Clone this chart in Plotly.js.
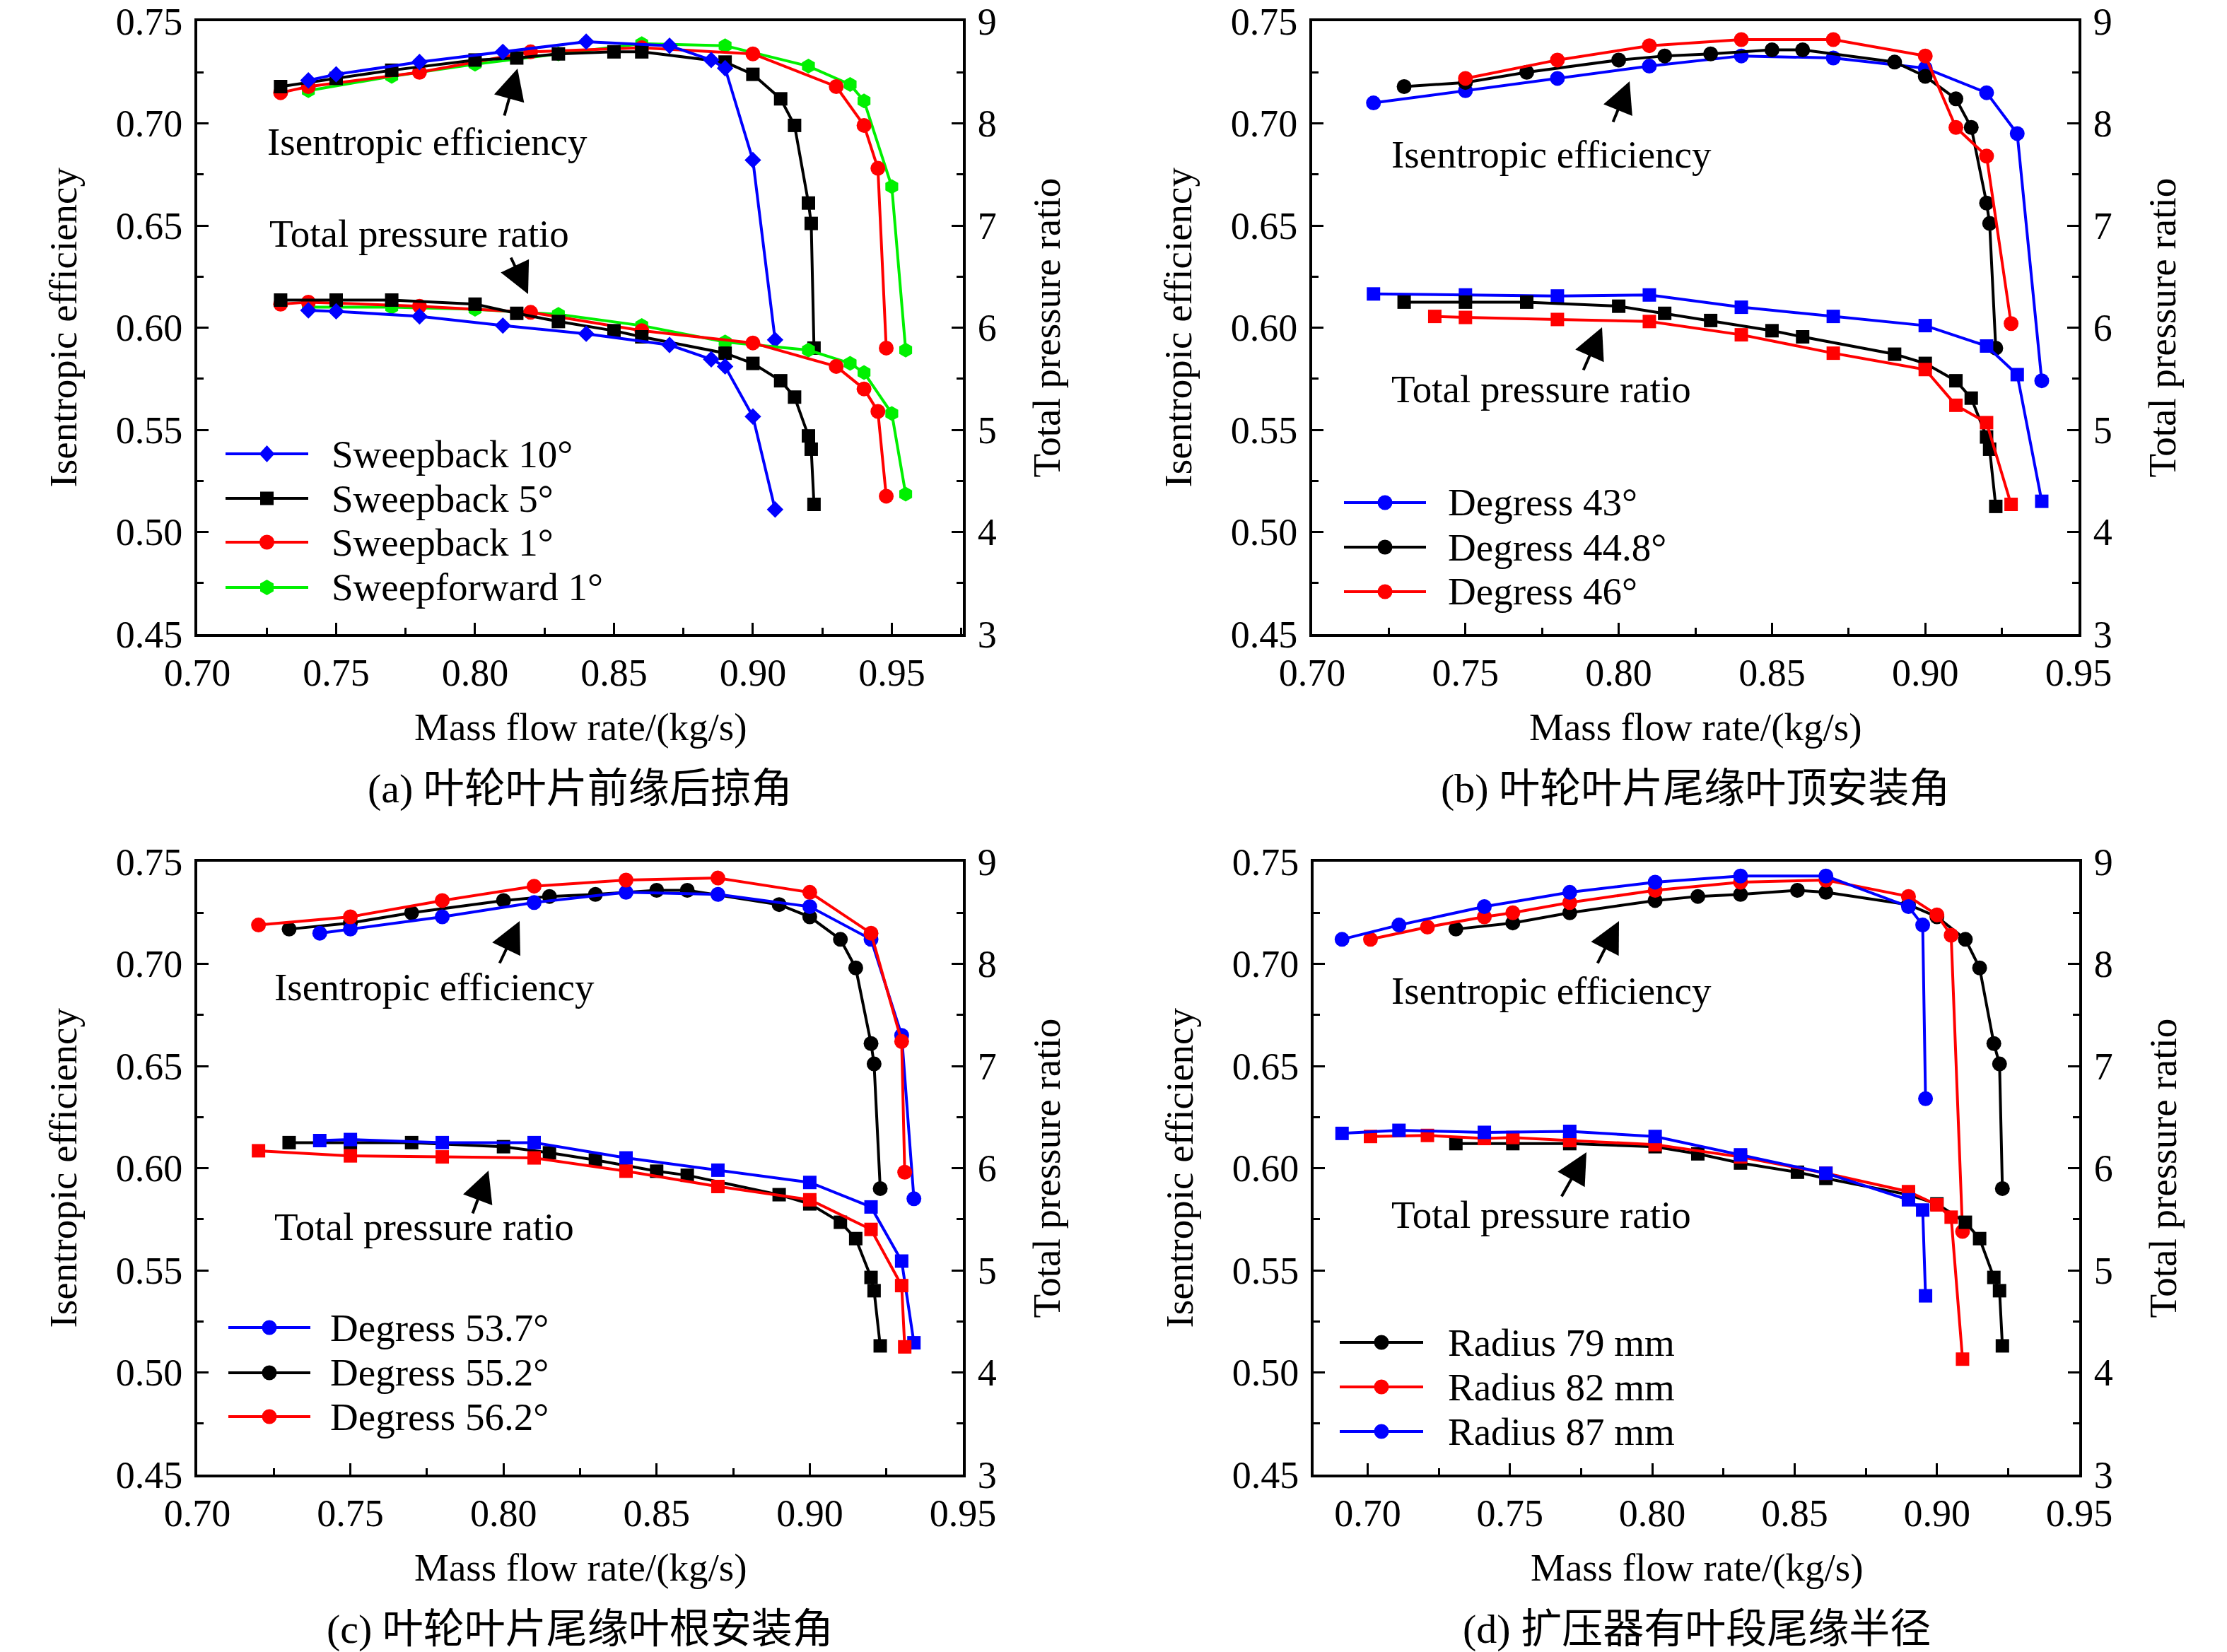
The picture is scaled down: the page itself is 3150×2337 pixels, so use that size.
<!DOCTYPE html>
<html><head><meta charset="utf-8">
<script src="https://cdn.plot.ly/plotly-3.0.1.min.js"></script>
<style>html,body{margin:0;padding:0;background:#fff}</style>
</head><body><div id="chart" style="width:3150px;height:2337px"></div>
<script>
// ---------- tick labels ----------
const flowTicks = [0.70, 0.75, 0.80, 0.85, 0.90, 0.95];
const flowTickText = ['0.70', '0.75', '0.80', '0.85', '0.90', '0.95'];
const effTicks = [0.45, 0.50, 0.55, 0.60, 0.65, 0.70, 0.75];
const effTickText = ['0.45', '0.50', '0.55', '0.60', '0.65', '0.70', '0.75'];
const prTicks = [3, 4, 5, 6, 7, 8, 9];
const prTickText = ['3', '4', '5', '6', '7', '8', '9'];

// ---------- (a) leading-edge sweep ----------
const a_sb10_flow = [0.740, 0.750, 0.780, 0.810, 0.840, 0.870, 0.885, 0.890, 0.900, 0.908];
const a_sb10_eff  = [0.721, 0.724, 0.730, 0.735, 0.740, 0.738, 0.731, 0.727, 0.682, 0.594];
const a_sb10_pr   = [6.17, 6.16, 6.11, 6.02, 5.94, 5.83, 5.69, 5.62, 5.13, 4.22];

const a_sb5_flow = [0.730, 0.750, 0.770, 0.800, 0.815, 0.830, 0.850, 0.860, 0.890, 0.900, 0.910, 0.915, 0.920, 0.921, 0.922];
const a_sb5_eff  = [0.718, 0.722, 0.726, 0.731, 0.732, 0.734, 0.735, 0.735, 0.730, 0.724, 0.712, 0.699, 0.661, 0.651, 0.590];
const a_sb5_pr   = [6.27, 6.27, 6.27, 6.23, 6.14, 6.06, 5.97, 5.91, 5.75, 5.65, 5.48, 5.32, 4.94, 4.81, 4.27];

const a_sb1_flow = [0.730, 0.740, 0.780, 0.820, 0.860, 0.900, 0.930, 0.940, 0.945, 0.948];
const a_sb1_eff  = [0.715, 0.718, 0.725, 0.735, 0.737, 0.734, 0.718, 0.699, 0.678, 0.590];
const a_sb1_pr   = [6.23, 6.25, 6.21, 6.15, 5.97, 5.85, 5.62, 5.40, 5.18, 4.35];

const a_sf1_flow = [0.740, 0.770, 0.800, 0.830, 0.860, 0.890, 0.920, 0.935, 0.940, 0.950, 0.955];
const a_sf1_eff  = [0.716, 0.723, 0.729, 0.734, 0.739, 0.738, 0.728, 0.719, 0.711, 0.669, 0.589];
const a_sf1_pr   = [6.20, 6.20, 6.18, 6.13, 6.02, 5.86, 5.78, 5.65, 5.56, 5.16, 4.37];

// ---------- (b) trailing-edge tip angle ----------
const b_43_flow = [0.720, 0.750, 0.780, 0.810, 0.840, 0.870, 0.900, 0.920, 0.930, 0.938];
const b_43_eff  = [0.710, 0.716, 0.722, 0.728, 0.733, 0.732, 0.727, 0.715, 0.695, 0.574];
const b_43_pr   = [6.33, 6.32, 6.31, 6.32, 6.20, 6.11, 6.02, 5.82, 5.54, 4.30];

const b_448_flow = [0.730, 0.750, 0.770, 0.800, 0.815, 0.830, 0.850, 0.860, 0.890, 0.900, 0.910, 0.915, 0.920, 0.921, 0.923];
const b_448_eff  = [0.718, 0.720, 0.725, 0.731, 0.733, 0.734, 0.736, 0.736, 0.730, 0.723, 0.712, 0.698, 0.661, 0.651, 0.590];
const b_448_pr   = [6.25, 6.25, 6.25, 6.21, 6.14, 6.07, 5.97, 5.91, 5.74, 5.65, 5.48, 5.31, 4.93, 4.81, 4.25];

const b_46_flow = [0.740, 0.750, 0.780, 0.810, 0.840, 0.870, 0.900, 0.910, 0.920, 0.928];
const b_46_eff  = [null, 0.722, 0.731, 0.738, 0.741, 0.741, 0.733, 0.698, 0.684, 0.602];
const b_46_pr   = [6.11, 6.10, 6.08, 6.06, 5.93, 5.75, 5.59, 5.24, 5.07, 4.27];

// ---------- (c) trailing-edge hub angle ----------
const c_537_flow = [0.740, 0.750, 0.780, 0.810, 0.840, 0.870, 0.900, 0.920, 0.930, 0.934];
const c_537_eff  = [0.715, 0.717, 0.723, 0.730, 0.735, 0.734, 0.728, 0.712, 0.665, 0.585];
const c_537_pr   = [6.27, 6.28, 6.25, 6.25, 6.10, 5.98, 5.86, 5.62, 5.09, 4.29];

const c_552_flow = [0.730, 0.750, 0.770, 0.800, 0.815, 0.830, 0.850, 0.860, 0.890, 0.900, 0.910, 0.915, 0.920, 0.921, 0.923];
const c_552_eff  = [0.717, 0.720, 0.725, 0.731, 0.733, 0.734, 0.736, 0.736, 0.729, 0.723, 0.712, 0.698, 0.661, 0.651, 0.590];
const c_552_pr   = [6.25, 6.25, 6.25, 6.21, 6.15, 6.08, 5.97, 5.93, 5.74, 5.65, 5.47, 5.31, 4.93, 4.80, 4.26];

const c_562_flow = [0.720, 0.750, 0.780, 0.810, 0.840, 0.870, 0.900, 0.920, 0.930, 0.931];
const c_562_eff  = [0.719, 0.723, 0.731, 0.738, 0.741, 0.742, 0.735, 0.715, 0.662, 0.598];
const c_562_pr   = [6.17, 6.12, 6.11, 6.10, 5.97, 5.82, 5.69, 5.40, 4.85, 4.25];

// ---------- (d) diffuser vane trailing-edge radius ----------
const d_79_flow = [0.731, 0.751, 0.771, 0.801, 0.816, 0.831, 0.851, 0.861, 0.890, 0.900, 0.910, 0.915, 0.920, 0.922, 0.923];
const d_79_eff  = [0.717, 0.720, 0.725, 0.731, 0.733, 0.734, 0.736, 0.735, 0.729, 0.723, 0.712, 0.698, 0.661, 0.651, 0.590];
const d_79_pr   = [6.24, 6.24, 6.24, 6.21, 6.14, 6.05, 5.96, 5.90, 5.74, 5.65, 5.47, 5.31, 4.93, 4.80, 4.26];

const d_82_flow = [0.701, 0.721, 0.741, 0.751, 0.771, 0.801, 0.831, 0.861, 0.890, 0.900, 0.905, 0.909];
const d_82_eff  = [0.712, 0.718, 0.723, 0.725, 0.730, 0.736, 0.740, 0.741, 0.733, 0.724, 0.714, 0.569];
const d_82_pr   = [6.31, 6.32, 6.29, 6.30, 6.27, 6.23, 6.11, 5.95, 5.77, 5.64, 5.52, 4.13];

const d_87_flow = [0.691, 0.711, 0.741, 0.771, 0.801, 0.831, 0.861, 0.890, 0.895, 0.896];
const d_87_eff  = [0.712, 0.719, 0.728, 0.735, 0.740, 0.743, 0.743, 0.728, 0.719, 0.634];
const d_87_pr   = [6.34, 6.37, 6.35, 6.36, 6.31, 6.13, 5.95, 5.69, 5.59, 4.75];

// ---------- layout helpers ----------
const W = 3150, H = 2337;
const FONT = '"Liberation Serif", "Times New Roman", serif';
const CJK = '"Liberation Serif", "Noto Sans CJK SC", serif';
const PX = v => v / W, PY = v => 1 - v / H;
const BLUE = '#0000ff', BLACK = '#000000', RED = '#ff0000', GREEN = '#00f000';

const panels = [
  {id: 1, x0: 279,  x1: 1362, y0: 30,   y1: 897,  xr: [0.70, 0.9756], cap: '(a) 叶轮叶片前缘后掠角'},
  {id: 2, x0: 1856, x1: 2940, y0: 30,   y1: 897,  xr: [0.70, 0.95],   cap: '(b) 叶轮叶片尾缘叶顶安装角'},
  {id: 3, x0: 279,  x1: 1362, y0: 1219, y1: 2086, xr: [0.70, 0.95],   cap: '(c) 叶轮叶片尾缘叶根安装角'},
  {id: 4, x0: 1858, x1: 2941, y0: 1219, y1: 2086, xr: [0.681, 0.95],  cap: '(d) 扩压器有叶段尾缘半径'}
];

const layout = {
  width: W, height: H, margin: {l: 0, r: 0, t: 0, b: 0},
  paper_bgcolor: '#fff', plot_bgcolor: '#fff', showlegend: false,
  font: {family: FONT, size: 54, color: '#000'},
  annotations: [], shapes: []
};
const tickFont = {family: FONT, size: 54, color: '#000'};
const common = {
  showline: true, linewidth: 4, linecolor: '#000', showgrid: false, zeroline: false,
  ticks: 'inside', ticklen: 16, tickwidth: 3, tickcolor: '#000', tickfont: tickFont,
  tickmode: 'array', fixedrange: true, ticklabelstandoff: 6
};

panels.forEach(p => {
  const s = p.id === 1 ? '' : String(p.id);
  const sr = String(p.id + 4);
  layout['xaxis' + s] = Object.assign({}, common, {
    domain: [PX(p.x0), PX(p.x1)], range: p.xr, anchor: 'y' + s, mirror: true,
    tickvals: flowTicks, ticktext: flowTickText, ticklabelstandoff: 4,
    minor: {tick0: 0.70, dtick: 0.025, ticks: 'inside', ticklen: 9, tickwidth: 3, tickcolor: '#000', showgrid: false}
  });
  layout['yaxis' + s] = Object.assign({}, common, {
    domain: [PY(p.y1), PY(p.y0)], range: [0.45, 0.75], anchor: 'x' + s,
    tickvals: effTicks, ticktext: effTickText,
    minor: {tick0: 0.45, dtick: 0.025, ticks: 'inside', ticklen: 9, tickwidth: 3, tickcolor: '#000', showgrid: false}
  });
  layout['yaxis' + sr] = Object.assign({}, common, {
    overlaying: 'y' + s, side: 'right', anchor: 'x' + s, range: [3, 9],
    tickvals: prTicks, ticktext: prTickText,
    minor: {tick0: 3, dtick: 0.5, ticks: 'inside', ticklen: 9, tickwidth: 3, tickcolor: '#000', showgrid: false}
  });
  const cx = (p.x0 + p.x1) / 2, cy = (p.y0 + p.y1) / 2;
  const titleFont = {family: FONT, size: 55, color: '#000'};
  layout.annotations.push(
    {xref: 'paper', yref: 'paper', x: PX(cx), y: PY(p.y1 + 131), text: 'Mass flow rate/(kg/s)', showarrow: false, xanchor: 'center', yanchor: 'middle', font: titleFont},
    {xref: 'paper', yref: 'paper', x: PX(cx), y: PY(p.y1 + 218), text: p.cap, showarrow: false, xanchor: 'center', yanchor: 'middle', font: {family: CJK, size: 58, color: '#000'}},
    {xref: 'paper', yref: 'paper', x: PX(p.x0 - 190), y: PY(cy), text: 'Isentropic efficiency', showarrow: false, textangle: -90, xanchor: 'center', yanchor: 'middle', font: titleFont},
    {xref: 'paper', yref: 'paper', x: PX(p.x1 + 118), y: PY(cy), text: 'Total pressure ratio', showarrow: false, textangle: -90, xanchor: 'center', yanchor: 'middle', font: titleFont}
  );
});

const traces = [];
const SIZES = {circle: 21, square: 19, diamond: 18, hexagon: 21};
function addSeries(pid, flow, eff, pr, color, effSym, prSym) {
  const s = pid === 1 ? '' : String(pid);
  const sr = String(pid + 4);
  const base = {mode: 'lines+markers', showlegend: false, cliponaxis: false, hoverinfo: 'x+y'};
  traces.push(Object.assign({}, base, {x: flow, y: eff, xaxis: 'x' + s, yaxis: 'y' + s,
    line: {color: color, width: 4}, marker: {symbol: effSym, size: SIZES[effSym], color: color}}));
  traces.push(Object.assign({}, base, {x: flow, y: pr, xaxis: 'x' + s, yaxis: 'y' + sr,
    line: {color: color, width: 4}, marker: {symbol: prSym, size: SIZES[prSym], color: color}}));
}
addSeries(1, a_sf1_flow, a_sf1_eff, a_sf1_pr, GREEN, 'hexagon', 'hexagon');
addSeries(1, a_sb1_flow, a_sb1_eff, a_sb1_pr, RED, 'circle', 'circle');
addSeries(1, a_sb5_flow, a_sb5_eff, a_sb5_pr, BLACK, 'square', 'square');
addSeries(1, a_sb10_flow, a_sb10_eff, a_sb10_pr, BLUE, 'diamond', 'diamond');

addSeries(2, b_43_flow, b_43_eff, b_43_pr, BLUE, 'circle', 'square');
addSeries(2, b_448_flow, b_448_eff, b_448_pr, BLACK, 'circle', 'square');
addSeries(2, b_46_flow, b_46_eff, b_46_pr, RED, 'circle', 'square');

addSeries(3, c_552_flow, c_552_eff, c_552_pr, BLACK, 'circle', 'square');
addSeries(3, c_537_flow, c_537_eff, c_537_pr, BLUE, 'circle', 'square');
addSeries(3, c_562_flow, c_562_eff, c_562_pr, RED, 'circle', 'square');

addSeries(4, d_79_flow, d_79_eff, d_79_pr, BLACK, 'circle', 'square');
addSeries(4, d_82_flow, d_82_eff, d_82_pr, RED, 'circle', 'square');
addSeries(4, d_87_flow, d_87_eff, d_87_pr, BLUE, 'circle', 'square');

// ---------- in-plot labels with arrows ----------
const labelFont = {family: FONT, size: 55, color: '#000'};
function label(x, y, text) {
  layout.annotations.push({xref: 'paper', yref: 'paper', x: PX(x), y: PY(y), text: text, showarrow: false, xanchor: 'center', yanchor: 'middle', font: labelFont});
}
function arrow(tx, ty, hx, hy) {
  layout.annotations.push({xref: 'paper', yref: 'paper', x: PX(hx), y: PY(hy), ax: tx - hx, ay: ty - hy,
    axref: 'pixel', ayref: 'pixel', text: '', showarrow: true, arrowhead: 2, arrowsize: 2.2, arrowwidth: 4, arrowcolor: '#000'});
}
label(604, 200, 'Isentropic efficiency');  arrow(713, 165, 732, 97);
label(593, 331, 'Total pressure ratio');   arrow(722, 363, 747, 416);
label(2194, 219, 'Isentropic efficiency'); arrow(2281, 174, 2305, 115);
label(2180, 550, 'Total pressure ratio');  arrow(2239, 525, 2266, 463);
label(614, 1396, 'Isentropic efficiency'); arrow(706, 1364, 735, 1303);
label(600, 1735, 'Total pressure ratio');  arrow(668, 1718, 691, 1656);
label(2194, 1402, 'Isentropic efficiency'); arrow(2259, 1364, 2290, 1303);
label(2180, 1718, 'Total pressure ratio');  arrow(2208, 1694, 2244, 1630);

// ---------- legends (drawn) ----------
function symbolShape(sym, cx, cy, color) {
  const base = {xref: 'paper', yref: 'paper', xsizemode: 'pixel', ysizemode: 'pixel', xanchor: PX(cx), yanchor: PY(cy),
    fillcolor: color, line: {width: 0}};
  if (sym === 'circle') return Object.assign(base, {type: 'circle', x0: -10.5, x1: 10.5, y0: -10.5, y1: 10.5});
  if (sym === 'square') return Object.assign(base, {type: 'rect', x0: -9.5, x1: 9.5, y0: -9.5, y1: 9.5});
  if (sym === 'diamond') return Object.assign(base, {type: 'path', path: 'M0,-12L11,0L0,12L-11,0Z'});
  return Object.assign(base, {type: 'path', path: 'M0,-11L9.5,-5.5L9.5,5.5L0,11L-9.5,5.5L-9.5,-5.5Z'});
}
function legend(lx0, lx1, tx, rows) {
  rows.forEach(r => {
    layout.shapes.push({type: 'line', xref: 'paper', yref: 'paper', x0: PX(lx0), x1: PX(lx1), y0: PY(r.y), y1: PY(r.y), line: {color: r.color, width: 4}});
    layout.shapes.push(symbolShape(r.sym, (lx0 + lx1) / 2, r.y, r.color));
    layout.annotations.push({xref: 'paper', yref: 'paper', x: PX(tx), y: PY(r.y), text: r.text, showarrow: false, xanchor: 'left', yanchor: 'middle', font: labelFont});
  });
}
legend(319, 436, 467, [
  {y: 642, color: BLUE, sym: 'diamond', text: 'Sweepback 10°'},
  {y: 705, color: BLACK, sym: 'square', text: 'Sweepback 5°'},
  {y: 767, color: RED, sym: 'circle', text: 'Sweepback 1°'},
  {y: 831, color: GREEN, sym: 'hexagon', text: 'Sweepforward 1°'}
]);
legend(1901, 2017, 2046, [
  {y: 711, color: BLUE, sym: 'circle', text: 'Degress 43°'},
  {y: 774, color: BLACK, sym: 'circle', text: 'Degress 44.8°'},
  {y: 837, color: RED, sym: 'circle', text: 'Degress 46°'}
]);
legend(323, 439, 465, [
  {y: 1878, color: BLUE, sym: 'circle', text: 'Degress 53.7°'},
  {y: 1942, color: BLACK, sym: 'circle', text: 'Degress 55.2°'},
  {y: 2004, color: RED, sym: 'circle', text: 'Degress 56.2°'}
]);
legend(1895, 2013, 2046, [
  {y: 1899, color: BLACK, sym: 'circle', text: 'Radius 79 mm'},
  {y: 1962, color: RED, sym: 'circle', text: 'Radius 82 mm'},
  {y: 2025, color: BLUE, sym: 'circle', text: 'Radius 87 mm'}
]);

Plotly.newPlot('chart', traces, layout, {staticPlot: true, displayModeBar: false});
</script>
</body></html>
